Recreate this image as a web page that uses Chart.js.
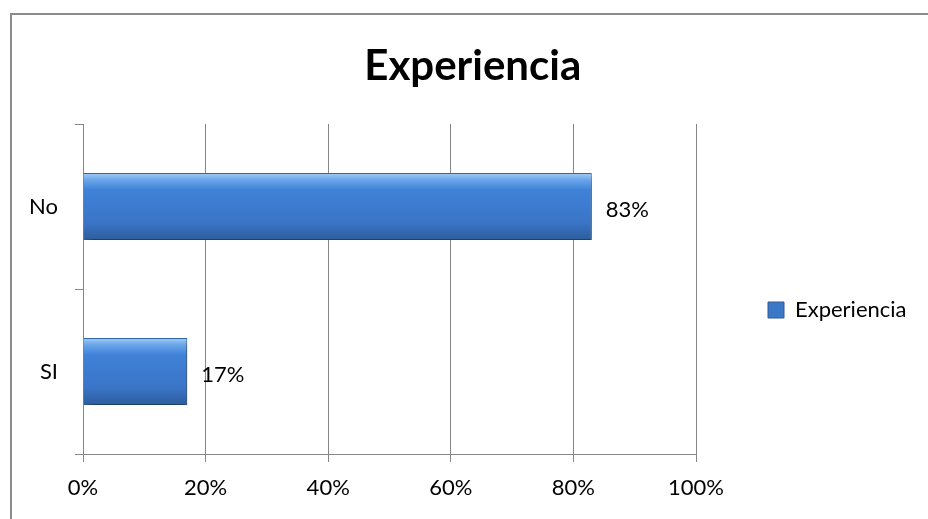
<!DOCTYPE html>
<html>
<head>
<meta charset="utf-8">
<script src="https://cdn.jsdelivr.net/npm/chart.js@4/dist/chart.umd.min.js"></script>
<style>
html, body { margin: 0; padding: 0; background: #fff; overflow: hidden; }
#frame { position: absolute; left: 10px; top: 13px; width: 960px; height: 560px; border: 2px solid #8c8c8c; box-sizing: border-box; }
#wrap { position: absolute; left: 0; top: 0; width: 952px; height: 519px; }
</style>
</head>
<body>
<div id="frame"></div>
<div id="wrap"><canvas id="chart" width="952" height="519"></canvas></div>
<script>
const categories = ['No', 'SI'];
const seriesName = 'Experiencia';
const values = [0.83, 0.17];
const valueLabels = ['83%', '17%'];
const tickLabels = ['0%', '20%', '40%', '60%', '80%', '100%'];

const FONT = 'Lato';
const GRID = '#868686';
const LEGEND_PAD = 72;

// legend width = pad + box + gap + text + 10, keep plot right edge near 696
const canvas = document.getElementById('chart');
const mctx = canvas.getContext('2d');
mctx.font = '22px ' + FONT;
const legendW = LEGEND_PAD + 16 + 11 + mctx.measureText(seriesName).width + 10;
const padRight = Math.max(0, 952 - 696 - legendW);

function barFill(ctx) {
    const el = ctx.element;
    if (!el || el.height === undefined || !isFinite(el.y)) return '#3d7fd0';
    const top = el.y - el.height / 2;
    const bot = el.y + el.height / 2;
    const g = ctx.chart.ctx.createLinearGradient(0, top, 0, bot);
    g.addColorStop(0, '#a3cdf5');
    g.addColorStop(0.1, '#6aa6ea');
    g.addColorStop(0.25, '#3f82d8');
    g.addColorStop(0.75, '#3a74c6');
    g.addColorStop(1, '#2d5d9c');
    return g;
}

const shadow = {
    id: 'shadow',
    beforeDatasetsDraw(chart) {
        const c = chart.ctx;
        c.save();
        c.shadowColor = 'rgba(0,0,0,0.45)';
        c.shadowBlur = 8;
        c.shadowOffsetX = 3;
        c.shadowOffsetY = 5;
    },
    afterDatasetsDraw(chart) {
        chart.ctx.restore();
    }
};

const valueText = {
    id: 'valueText',
    afterDatasetsDraw(chart) {
        const c = chart.ctx;
        const meta = chart.getDatasetMeta(0);
        c.save();
        c.font = '22px ' + FONT;
        c.fillStyle = '#000';
        c.textBaseline = 'middle';
        c.textAlign = 'left';
        meta.data.forEach((el, i) => {
            c.fillText(valueLabels[i], el.x + 14, el.y + 3);
        });
        c.restore();
    }
};

const chart = new Chart(canvas, {
    type: 'bar',
    data: {
        labels: categories,
        datasets: [{
            label: seriesName,
            data: values,
            backgroundColor: barFill,
            borderColor: '#3468ad',
            borderWidth: 1,
            categoryPercentage: 1,
            barPercentage: 0.405
        }]
    },
    options: {
        indexAxis: 'y',
        responsive: false,
        animation: false,
        devicePixelRatio: 1,
        layout: { padding: { left: 29, right: padRight, top: 0, bottom: 17 } },
        scales: {
            x: {
                min: 0,
                max: 1,
                ticks: {
                    stepSize: 0.2,
                    padding: 13,
                    color: '#000',
                    font: { family: FONT, size: 22 },
                    callback: (v, i) => tickLabels[i]
                },
                grid: { color: GRID, lineWidth: 1, tickLength: 8 },
                border: { display: true, color: GRID },
                afterFit(scale) { scale.height = 48; }
            },
            y: {
                ticks: {
                    padding: 17,
                    color: '#000',
                    font: { family: FONT, size: 22 }
                },
                grid: { drawOnChartArea: false, color: GRID, tickLength: 8 },
                border: { display: true, color: GRID },
                afterFit(scale) { scale.width = 54; }
            }
        },
        plugins: {
            title: {
                display: true,
                text: 'Experiencia',
                color: '#000',
                font: { family: FONT, size: 42, weight: 'bold' },
                padding: { top: 40.8, bottom: 32.8 }
            },
            legend: {
                position: 'right',
                fullSize: false,
                title: { display: true, text: '', font: { size: 10 }, padding: { top: 30, bottom: 0 } },
                labels: {
                    color: '#000',
                    font: { family: FONT, size: 22 },
                    boxWidth: 16,
                    boxHeight: 16,
                    padding: LEGEND_PAD,
                    generateLabels: () => [{
                        text: seriesName,
                        fillStyle: '#3d78c8',
                        strokeStyle: '#2c5a96',
                        fontColor: '#000',
                        lineWidth: 1,
                        datasetIndex: 0
                    }]
                }
            },
            tooltip: { enabled: false }
        }
    },
    plugins: [shadow, valueText]
});
chart.update('none');
</script>
</body>
</html>
